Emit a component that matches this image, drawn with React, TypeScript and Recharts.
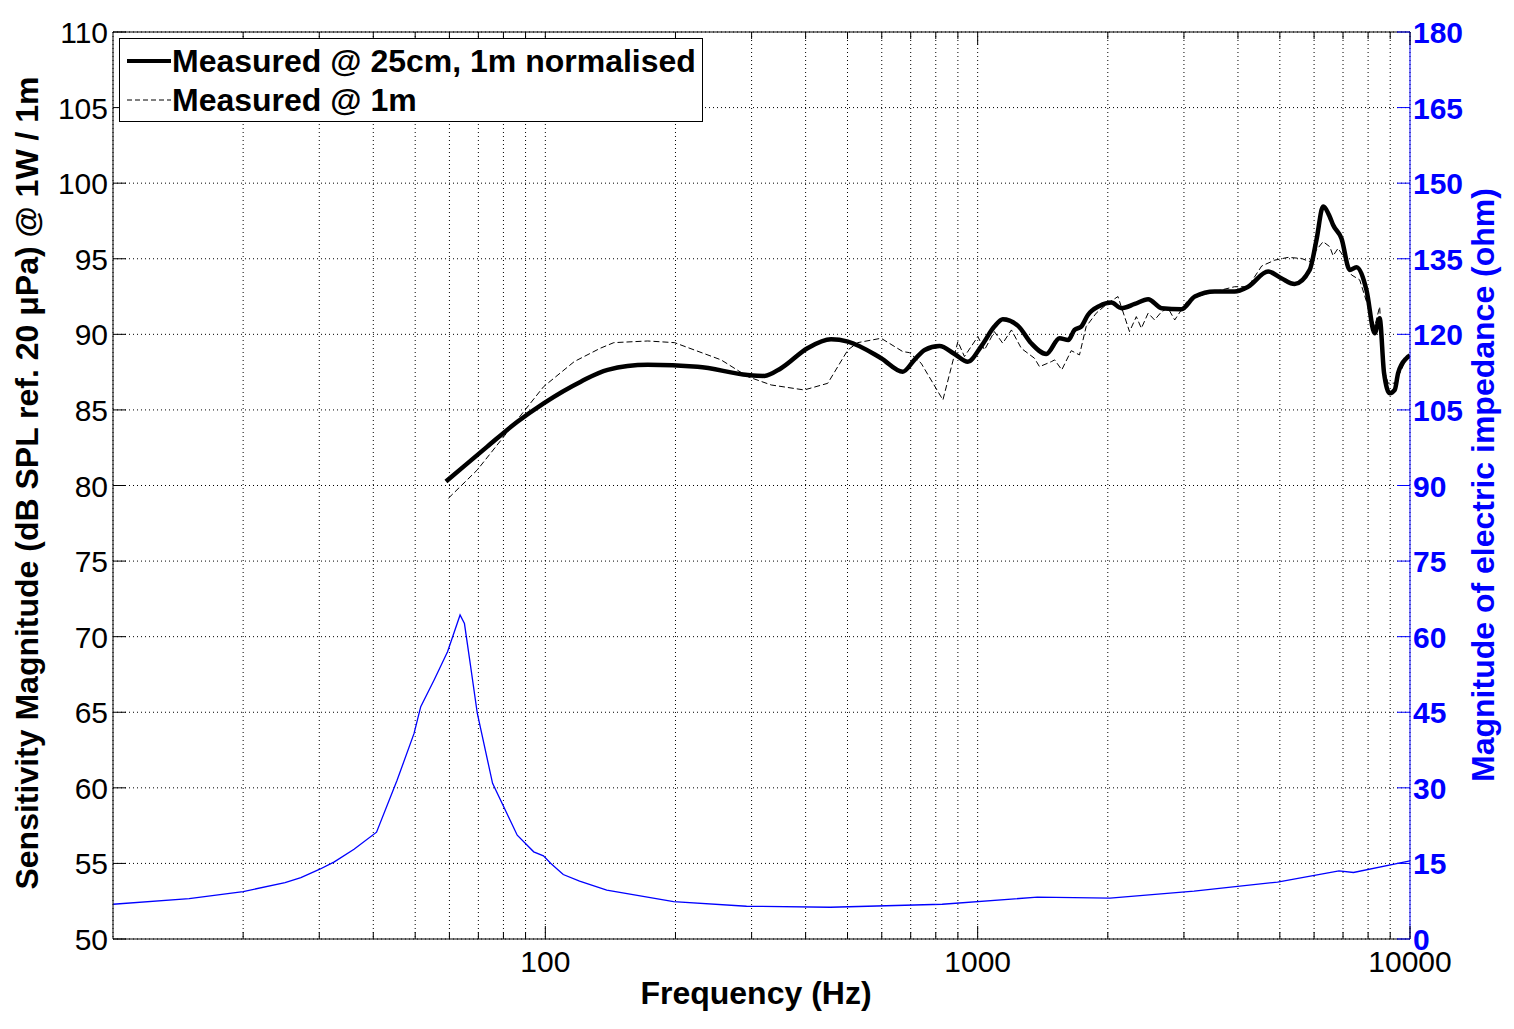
import React from 'react';
import { LineChart, Line, XAxis, YAxis, CartesianGrid, Legend } from 'recharts';

const FONT = '"Liberation Sans", Arial, Helvetica, sans-serif';
const BLUE = '#0000ff';

// axis ticks
const freqTicks = [
  20, 30, 40, 50, 60, 70, 80, 90, 100,
  200, 300, 400, 500, 600, 700, 800, 900, 1000,
  2000, 3000, 4000, 5000, 6000, 7000, 8000, 9000, 10000,
];
const freqLabels = [100, 1000, 10000];
const splTicks = [50, 55, 60, 65, 70, 75, 80, 85, 90, 95, 100, 105, 110];
const ohmTicks = [0, 15, 30, 45, 60, 75, 90, 105, 120, 135, 150, 165, 180];

// Measured @ 25cm, 1m normalised (dB)
const nearFreq = [
  58.9, 65, 73.4, 86, 99.1, 120.8, 139.3, 172.5, 225, 294, 321, 351, 404, 458, 501, 598, 671, 714, 754, 816,
  884, 949, 1018, 1093, 1143, 1240, 1330, 1441, 1547, 1620, 1675, 1736, 1799, 1914, 2037, 2151, 2309, 2479,
  2663, 2962, 3179, 3535, 3929, 4222, 4697, 5039, 5408, 5861, 6076, 6295, 6522, 6640, 6941, 7256, 7516, 7929,
  8285, 8508, 8710, 8974, 9221, 9386, 9813, 10000,
];
const nearSpl = [
  80.26, 81.3, 82.57, 84.2, 85.44, 86.87, 87.65, 87.98, 87.86, 87.31, 87.25, 87.76, 89.08, 89.67, 89.52, 88.42,
  87.53, 88.31, 88.97, 89.23, 88.7, 88.19, 89.19, 90.51, 91.0, 90.56, 89.41, 88.7, 89.74, 89.63, 90.29, 90.51,
  91.28, 91.88, 92.1, 91.73, 92.01, 92.32, 91.73, 91.66, 92.5, 92.83, 92.83, 93.15, 94.15, 93.71, 93.33, 94.26,
  96.24, 98.45, 97.78, 97.23, 96.35, 94.26, 94.44, 92.94, 90.07, 91.06, 87.43, 86.11, 86.33, 87.43, 88.42, 88.6,
];

// Measured @ 1m (dB)
const farFreq = [
  59.7, 69.6, 89.2, 99.1, 116.7, 134, 144, 172.5, 199, 255, 294, 333, 397, 450, 501, 528, 598, 671, 695, 740,
  831, 900, 932, 1001, 1037, 1093, 1143, 1197, 1262, 1353, 1390, 1480, 1507, 1565, 1646, 1720, 1782, 1880,
  2002, 2111, 2245, 2328, 2391, 2479, 2566, 2663, 2757, 2856, 3066, 3411, 3929, 4222, 4539, 4868, 5225, 5610,
  5861, 6076, 6295, 6522, 6640, 6818, 7068, 7323, 7650, 8000, 8285, 8508, 8668, 8897, 9221, 9550, 9813, 10000,
];
const farSpl = [
  79.16, 81.03, 84.9, 86.54, 88.2, 89.08, 89.45, 89.56, 89.45, 88.31, 87.2, 86.65, 86.32, 86.76, 88.97, 89.45,
  89.74, 88.86, 88.79, 88.09, 85.66, 89.52, 88.53, 89.85, 88.97, 90.18, 89.41, 90.29, 89.07, 88.42, 87.86,
  88.19, 88.31, 87.65, 88.92, 88.64, 90.51, 91.4, 92.06, 92.5, 90.18, 91.17, 90.4, 91.4, 90.95, 91.5, 91.73,
  90.95, 92.28, 92.72, 93.15, 93.15, 94.52, 94.91, 95.09, 95.02, 94.81, 95.58, 96.13, 95.8, 95.2, 95.69, 95.02,
  93.93, 93.6, 91.83, 90.51, 91.83, 87.86, 86.77, 86.77, 87.65, 88.42, 88.7,
];

// electric impedance (ohm)
const impFreq = [
  10, 15, 20, 25, 27.2, 30, 32.5, 36.1, 40.7, 45.4, 49.7, 51.5, 55.3, 59.4, 63.5, 65, 67.2, 69.6, 75.5, 86.1,
  94, 99, 103, 110, 120, 138.7, 198, 292, 456, 828, 1374, 2024, 3166, 4937, 6850, 7400, 10000,
];
const impOhm = [
  6.9, 8.0, 9.4, 11.2, 12.2, 13.8, 15.3, 17.8, 21.2, 31.5, 40.8, 46.1, 51.4, 57.0, 64.3, 62.6, 54.0, 44.8, 30.9,
  20.6, 17.3, 16.5, 15.0, 12.8, 11.5, 9.7, 7.4, 6.5, 6.3, 6.9, 8.3, 8.1, 9.5, 11.3, 13.5, 13.2, 15.5,
];

const legendNames = ['Measured @ 25cm, 1m normalised', 'Measured @ 1m'];

const zip = (f: number[], v: number[]) => f.map((x, i) => ({ f: x, v: v[i] }));
const nearData = zip(nearFreq, nearSpl);
const farData = zip(farFreq, farSpl);
const impData = zip(impFreq, impOhm);

const LeftTick = ({ x, y, payload }: any) => (
  <g>
    <line x1={x} x2={x + 13} y1={y} y2={y} stroke="#000" />
    <text x={x - 5} y={y} dy={11} textAnchor="end" fontSize={30} fontFamily={FONT} fill="#000">
      {payload.value}
    </text>
  </g>
);

const RightTick = ({ x, y, payload }: any) => (
  <g>
    <line x1={x - 13} x2={x} y1={y} y2={y} stroke={BLUE} />
    <text x={x + 3} y={y} dy={11} textAnchor="start" fontSize={30} fontWeight="bold" fontFamily={FONT} fill={BLUE}>
      {payload.value}
    </text>
  </g>
);

const BottomTick = ({ x, y, payload }: any) => {
  const major = freqLabels.includes(payload.value);
  return (
    <g>
      <line x1={x} x2={x} y1={y} y2={y - (major ? 13 : 7)} stroke="#000" />
      {major && (
        <text x={x} y={y + 33} textAnchor="middle" fontSize={30} fontFamily={FONT} fill="#000">
          {payload.value}
        </text>
      )}
    </g>
  );
};

const TopTick = ({ x, y, payload }: any) => {
  const major = freqLabels.includes(payload.value);
  return <line x1={x} x2={x} y1={y} y2={y + (major ? 13 : 7)} stroke="#000" />;
};

const LegendBox = () => (
  <div
    style={{
      position: 'relative',
      width: 584,
      height: 84,
      boxSizing: 'border-box',
      border: '1px solid #000',
      background: '#fff',
      fontFamily: FONT,
      fontSize: 32,
      fontWeight: 'bold',
      color: '#000',
    }}
  >
    <svg width={60} height={82} style={{ position: 'absolute', left: 0, top: 0 }}>
      <line x1={7} x2={51} y1={22} y2={22} stroke="#000" strokeWidth={4} />
      <line x1={7} x2={51} y1={61} y2={61} stroke="#000" strokeWidth={1} strokeDasharray="5 3" />
    </svg>
    <div style={{ position: 'absolute', left: 52, top: 6, lineHeight: '32px', whiteSpace: 'nowrap' }}>
      {legendNames[0]}
    </div>
    <div style={{ position: 'absolute', left: 52, top: 45, lineHeight: '32px', whiteSpace: 'nowrap' }}>
      {legendNames[1]}
    </div>
  </div>
);

export default function App() {
  return (
    <LineChart width={1498} height={1013} margin={{ top: 0, right: 0, bottom: 0, left: 0 }}>
      <CartesianGrid xAxisId="bottom" yAxisId="left" stroke="#000" strokeDasharray="1 3" />
      <XAxis
        xAxisId="bottom"
        dataKey="f"
        type="number"
        scale="log"
        domain={[10, 10000]}
        allowDataOverflow
        ticks={freqTicks}
        interval={0}
        height={82}
        tickSize={0}
        tickMargin={0}
        tickLine={false}
        axisLine={{ stroke: '#000' }}
        tick={BottomTick}
        label={() => (
          <text x={748} y={996} textAnchor="middle" fontSize={32} fontWeight="bold" fontFamily={FONT} fill="#000">
            Frequency (Hz)
          </text>
        )}
      />
      <XAxis
        xAxisId="top"
        orientation="top"
        dataKey="f"
        type="number"
        scale="log"
        domain={[10, 10000]}
        allowDataOverflow
        ticks={freqTicks}
        interval={0}
        height={24}
        tickSize={0}
        tickMargin={0}
        tickLine={false}
        axisLine={{ stroke: '#000' }}
        tick={TopTick}
      />
      <YAxis
        yAxisId="left"
        domain={[50, 110]}
        allowDataOverflow
        ticks={splTicks}
        interval={0}
        width={105}
        tickSize={0}
        tickMargin={0}
        tickLine={false}
        axisLine={{ stroke: '#000' }}
        tick={LeftTick}
        label={() => (
          <text
            transform="translate(30,475) rotate(-90)"
            textAnchor="middle"
            fontSize={32}
            fontWeight="bold"
            fontFamily={FONT}
            fill="#000"
          >
            Sensitivity Magnitude (dB SPL ref. 20 μPa) @ 1W / 1m
          </text>
        )}
      />
      <YAxis
        yAxisId="right"
        orientation="right"
        domain={[0, 180]}
        allowDataOverflow
        ticks={ohmTicks}
        interval={0}
        width={96}
        tickSize={0}
        tickMargin={0}
        tickLine={false}
        axisLine={{ stroke: BLUE }}
        tick={RightTick}
        label={() => (
          <text
            transform="translate(1486,477) rotate(-90)"
            textAnchor="middle"
            fontSize={32}
            fontWeight="bold"
            fontFamily={FONT}
            fill={BLUE}
          >
            Magnitude of electric impedance (ohm)
          </text>
        )}
      />
      <Line
        xAxisId="bottom"
        yAxisId="right"
        data={impData}
        dataKey="v"
        type="linear"
        stroke={BLUE}
        strokeWidth={1.3}
        dot={false}
        legendType="none"
        isAnimationActive={false}
      />
      <Line
        xAxisId="bottom"
        yAxisId="left"
        data={farData}
        dataKey="v"
        name={legendNames[1]}
        type="linear"
        stroke="#000"
        strokeWidth={1}
        strokeDasharray="6 3"
        dot={false}
        isAnimationActive={false}
      />
      <Line
        xAxisId="bottom"
        yAxisId="left"
        data={nearData}
        dataKey="v"
        name={legendNames[0]}
        type="monotone"
        stroke="#000"
        strokeWidth={4.5}
        dot={false}
        isAnimationActive={false}
      />
      <Legend
        layout="vertical"
        align="center"
        verticalAlign="middle"
        wrapperStyle={{ top: 30, left: 111, width: 584, height: 84 }}
        content={() => <LegendBox />}
      />
    </LineChart>
  );
}
